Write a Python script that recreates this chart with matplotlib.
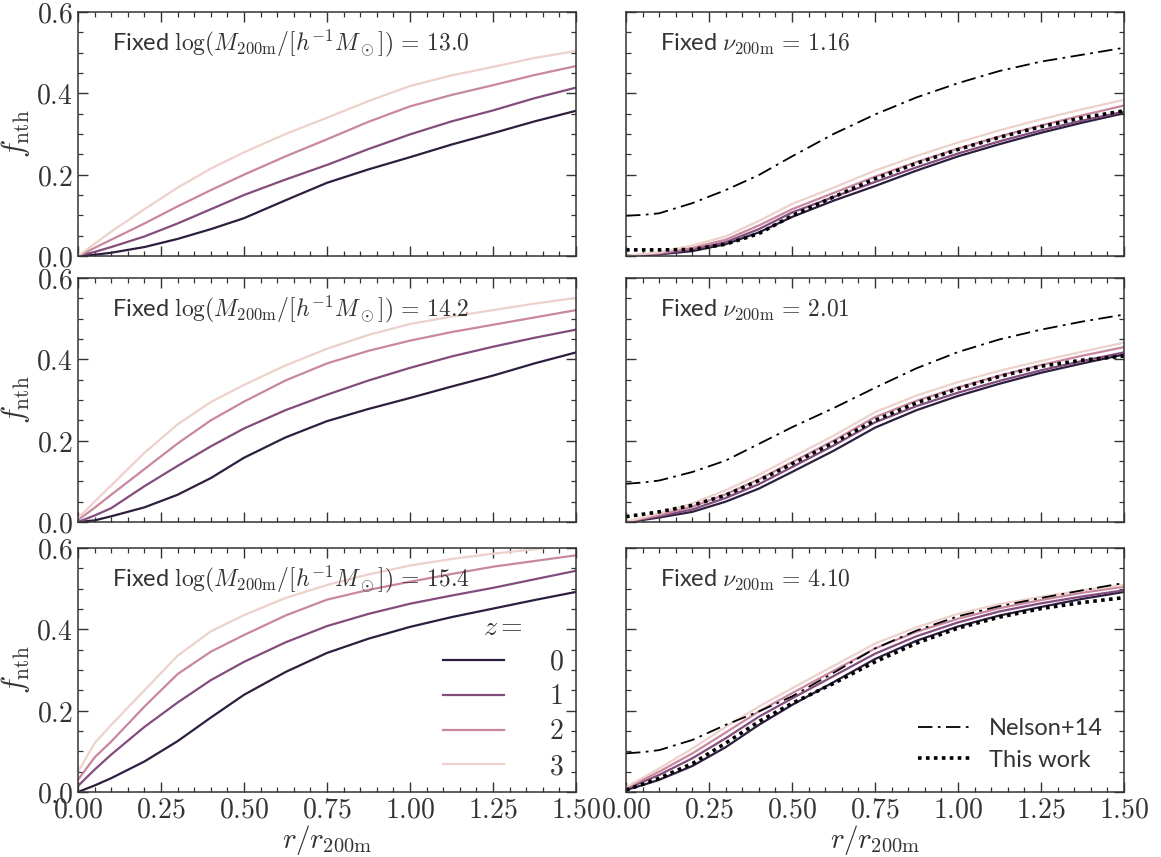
import numpy as np
import matplotlib
matplotlib.use("Agg")
import matplotlib.pyplot as plt
from matplotlib.ticker import MultipleLocator, FuncFormatter
import seaborn as sns

plt.rcParams['mathtext.fontset'] = 'cm'
plt.rcParams['font.family'] = ['Lato', 'DejaVu Sans']

# radial grid r / r_200m
r = [0, 0.05, 0.1, 0.2, 0.3, 0.4, 0.5, 0.625, 0.75, 0.875, 1.0, 1.125, 1.25, 1.375, 1.5]
redshifts = [0, 1, 2, 3]

# Left column: fixed mass
mass_labels = ["13.0", "14.2", "15.4"]
fixed_mass_13 = [
    [0, 0.003, 0.008, 0.022, 0.042, 0.066, 0.093, 0.137, 0.180, 0.213, 0.243, 0.274, 0.302, 0.331, 0.357],
    [0, 0.010, 0.022, 0.048, 0.080, 0.115, 0.150, 0.188, 0.224, 0.263, 0.299, 0.331, 0.358, 0.388, 0.414],
    [0, 0.020, 0.040, 0.080, 0.122, 0.162, 0.200, 0.245, 0.287, 0.330, 0.368, 0.396, 0.420, 0.445, 0.467],
    [0, 0.030, 0.060, 0.115, 0.168, 0.215, 0.255, 0.300, 0.340, 0.381, 0.418, 0.444, 0.465, 0.487, 0.504],
]
fixed_mass_142 = [
    [0, 0.004, 0.014, 0.036, 0.067, 0.108, 0.158, 0.208, 0.248, 0.278, 0.305, 0.333, 0.360, 0.390, 0.417],
    [0, 0.016, 0.034, 0.088, 0.138, 0.186, 0.230, 0.275, 0.313, 0.348, 0.379, 0.407, 0.431, 0.453, 0.473],
    [0.005, 0.035, 0.067, 0.130, 0.193, 0.250, 0.296, 0.348, 0.390, 0.421, 0.446, 0.467, 0.485, 0.503, 0.521],
    [0.010, 0.050, 0.090, 0.170, 0.240, 0.295, 0.337, 0.385, 0.426, 0.460, 0.487, 0.505, 0.521, 0.537, 0.551],
]
fixed_mass_154 = [
    [0, 0.016, 0.034, 0.075, 0.125, 0.183, 0.239, 0.295, 0.342, 0.377, 0.406, 0.430, 0.451, 0.472, 0.492],
    [0.015, 0.055, 0.092, 0.160, 0.220, 0.275, 0.320, 0.368, 0.408, 0.438, 0.463, 0.483, 0.502, 0.523, 0.544],
    [0.030, 0.085, 0.124, 0.210, 0.290, 0.345, 0.386, 0.434, 0.473, 0.497, 0.517, 0.536, 0.554, 0.568, 0.582],
    [0.050, 0.120, 0.165, 0.250, 0.335, 0.395, 0.435, 0.477, 0.509, 0.535, 0.557, 0.573, 0.586, 0.597, 0.608],
]

# Right column: fixed peak height
nu_labels = ["1.16", "2.01", "4.10"]
fixed_nu_116 = [
    [0, 0.002, 0.004, 0.012, 0.029, 0.058, 0.096, 0.136, 0.172, 0.210, 0.245, 0.275, 0.303, 0.328, 0.351],
    [0, 0.003, 0.005, 0.016, 0.034, 0.066, 0.107, 0.145, 0.182, 0.218, 0.252, 0.282, 0.309, 0.333, 0.355],
    [0, 0.004, 0.007, 0.020, 0.040, 0.075, 0.115, 0.155, 0.195, 0.231, 0.264, 0.294, 0.321, 0.346, 0.370],
    [0, 0.005, 0.009, 0.026, 0.048, 0.086, 0.128, 0.168, 0.210, 0.246, 0.279, 0.309, 0.336, 0.361, 0.384],
]
nelson_116 = [0.099, 0.101, 0.105, 0.130, 0.162, 0.199, 0.245, 0.300, 0.348, 0.390, 0.425, 0.455, 0.478, 0.495, 0.512]
thiswork_116 = [0.015, 0.015, 0.015, 0.016, 0.029, 0.055, 0.099, 0.145, 0.190, 0.228, 0.262, 0.292, 0.318, 0.340, 0.357]

fixed_nu_201 = [
    [0, 0.005, 0.011, 0.025, 0.050, 0.082, 0.123, 0.175, 0.232, 0.275, 0.310, 0.340, 0.367, 0.390, 0.412],
    [0, 0.007, 0.014, 0.031, 0.059, 0.093, 0.135, 0.188, 0.245, 0.285, 0.318, 0.347, 0.373, 0.396, 0.417],
    [0, 0.009, 0.017, 0.038, 0.068, 0.105, 0.147, 0.200, 0.258, 0.298, 0.331, 0.360, 0.386, 0.409, 0.430],
    [0, 0.011, 0.021, 0.046, 0.078, 0.116, 0.159, 0.212, 0.270, 0.311, 0.344, 0.372, 0.396, 0.419, 0.441],
]
nelson_201 = [0.094, 0.097, 0.102, 0.123, 0.151, 0.192, 0.233, 0.280, 0.330, 0.378, 0.418, 0.449, 0.473, 0.493, 0.510]
thiswork_201 = [0.013, 0.019, 0.025, 0.041, 0.066, 0.102, 0.143, 0.195, 0.250, 0.293, 0.328, 0.358, 0.383, 0.398, 0.408]

fixed_nu_410 = [
    [0.005, 0.017, 0.030, 0.064, 0.110, 0.165, 0.214, 0.270, 0.327, 0.372, 0.407, 0.434, 0.455, 0.475, 0.492],
    [0.008, 0.025, 0.042, 0.083, 0.132, 0.185, 0.230, 0.285, 0.340, 0.383, 0.417, 0.444, 0.464, 0.481, 0.496],
    [0.010, 0.030, 0.050, 0.095, 0.146, 0.198, 0.243, 0.298, 0.353, 0.394, 0.426, 0.452, 0.472, 0.490, 0.505],
    [0.012, 0.035, 0.058, 0.107, 0.160, 0.210, 0.255, 0.310, 0.365, 0.405, 0.438, 0.462, 0.480, 0.496, 0.509],
]
nelson_410 = [0.095, 0.098, 0.103, 0.128, 0.165, 0.198, 0.235, 0.293, 0.353, 0.397, 0.432, 0.457, 0.477, 0.496, 0.514]
thiswork_410 = [0.005, 0.019, 0.034, 0.070, 0.120, 0.173, 0.218, 0.267, 0.320, 0.366, 0.403, 0.430, 0.451, 0.466, 0.478]

colors = sns.cubehelix_palette(4, reverse=True)
plt.rcParams['font.family'] = ['Lato', 'DejaVu Sans']
txt_color = '#333333'

fig = plt.figure(figsize=(11.61, 8.57), dpi=100)
W, H = 1161, 857
lefts = [78, 626]
tops = [12, 278, 548]
aw, ah = 498, 244

left_data = [fixed_mass_13, fixed_mass_142, fixed_mass_154]
right_data = [fixed_nu_116, fixed_nu_201, fixed_nu_410]
nelson = [nelson_116, nelson_201, nelson_410]
thiswork = [thiswork_116, thiswork_201, thiswork_410]

fmt1 = FuncFormatter(lambda v, p: f"${v:.1f}$")
fmt2 = FuncFormatter(lambda v, p: f"${v:.2f}$")

def style(ax, row, col):
    ax.set_xlim(0, 1.5)
    ax.set_ylim(0, 0.6)
    ax.xaxis.set_major_locator(MultipleLocator(0.25))
    ax.xaxis.set_minor_locator(MultipleLocator(0.05))
    ax.yaxis.set_major_locator(MultipleLocator(0.2))
    ax.yaxis.set_minor_locator(MultipleLocator(0.05))
    ax.tick_params(which='both', direction='in', top=True, right=True,
                   colors=txt_color, labelcolor=txt_color)
    ax.tick_params(which='major', length=7, width=1.0, labelsize=20)
    ax.tick_params(which='minor', length=3.5, width=0.9)
    ax.xaxis.set_major_formatter(fmt2)
    ax.yaxis.set_major_formatter(fmt1)
    for s in ax.spines.values():
        s.set_color(txt_color)
        s.set_linewidth(1.1)
    if row < 2:
        ax.tick_params(labelbottom=False)
    else:
        ax.set_xlabel(r"$r/r_{\rm 200m}$", fontsize=21, color=txt_color, labelpad=0)
    if col == 1:
        ax.tick_params(labelleft=False)
    else:
        ax.set_ylabel(r"$f_{\rm nth}$", fontsize=22, color=txt_color, labelpad=3)

for row in range(3):
    y0 = 1 - (tops[row] + ah) / H
    axl = fig.add_axes([lefts[0] / W, y0, aw / W, ah / H])
    axr = fig.add_axes([lefts[1] / W, y0, aw / W, ah / H])
    style(axl, row, 0)
    style(axr, row, 1)
    for i, z in enumerate(redshifts):
        axl.plot(r, left_data[row][i], color=colors[i], lw=1.6, label=f"${z}$")
        axr.plot(r, right_data[row][i], color=colors[i], lw=1.6)
    l1, = axr.plot(r, nelson[row], color='black', lw=1.3, ls=(0, (8, 3, 1.5, 3)), label='Nelson+14')
    l2, = axr.plot(r, thiswork[row], color='black', lw=2.6, ls=(0, (1, 1.2)), label='This work')
    axl.text(0.068, 0.87, r"Fixed $\log(M_{\rm 200m}/[h^{-1}M_\odot])\,=\," + mass_labels[row] + "$",
             transform=axl.transAxes, fontsize=17, color=txt_color, va='center')
    axr.text(0.068, 0.87, r"Fixed $\nu_{\rm 200m}\,=\," + nu_labels[row] + "$",
             transform=axr.transAxes, fontsize=17, color=txt_color, va='center')
    if row == 2:
        leg = axl.legend(title=r"$z=$", loc='lower right', frameon=False, fontsize=20,
                         title_fontsize=20, handlelength=2.2, labelspacing=0.32,
                         handletextpad=1.6, bbox_to_anchor=(1.025, -0.05))
        for t in leg.get_texts():
            t.set_color(txt_color)
        leg.get_title().set_color(txt_color)
        leg2 = axr.legend(handles=[l1, l2], loc='lower right', frameon=False, fontsize=17,
                          handlelength=2.2, handletextpad=0.8, labelspacing=0.45,
                          bbox_to_anchor=(1.0, 0.0))
        for t in leg2.get_texts():
            t.set_color(txt_color)

fig.savefig("out.png", dpi=100)
